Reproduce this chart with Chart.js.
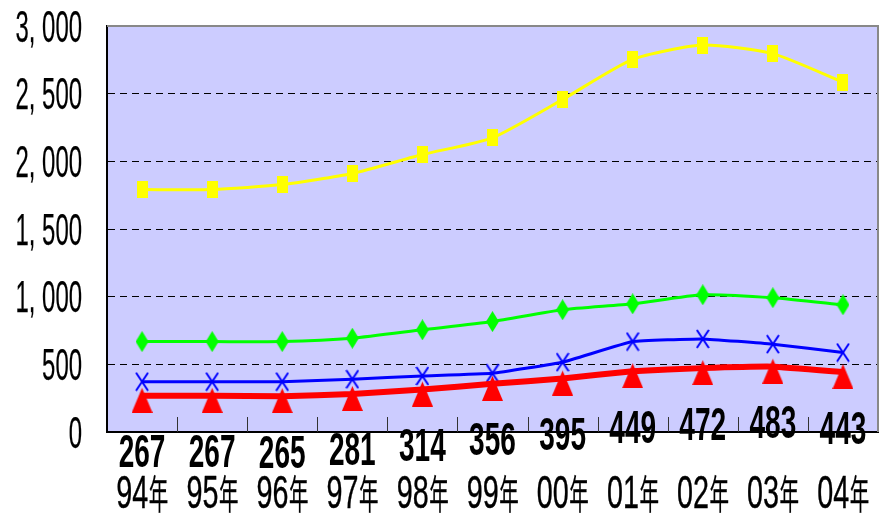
<!DOCTYPE html>
<html><head><meta charset="utf-8">
<script src="https://cdn.jsdelivr.net/npm/chart.js@4.4.1/dist/chart.umd.min.js"></script>
<style>html,body{margin:0;padding:0;background:#fff}#wrap{width:888px;height:518px;position:relative}</style>
</head><body><div id="wrap"><canvas id="c"></canvas></div>
<script>
// ---- data ----
const categories = ['94年','95年','96年','97年','98年','99年','00年','01年','02年','03年','04年'];
const yellowSeries = [1791,1791,1828,1910,2050,2174,2457,2753,2859,2796,2585];
const greenSeries  = [668,668,668,693,755,816,903,947,1014,992,940];
const blueSeries   = [372,372,372,390,414,434,516,668,688,649,587];
const redSeries    = [267,267,265,281,314,356,395,449,472,483,443];
const yTickValues  = [0,500,1000,1500,2000,2500,3000];

// ---- marker images ----
function mk(w,h,draw){const c=document.createElement('canvas');c.width=w;c.height=h;const g=c.getContext('2d');draw(g);return c;}
const yellowMark = mk(11,17,g=>{g.fillStyle='#FFFF00';g.fillRect(0,0,11,17);});
const greenMark = mk(13,21,g=>{g.fillStyle='#00FF00';g.beginPath();g.moveTo(6.5,0);g.lineTo(13,10.5);g.lineTo(6.5,21);g.lineTo(0,10.5);g.closePath();g.fill();});
const blueMark = mk(14,20,g=>{g.strokeStyle='#0000FF';g.lineWidth=2;g.beginPath();g.moveTo(1,1);g.lineTo(13,19);g.moveTo(13,1);g.lineTo(1,19);g.stroke();});
const redMark = mk(21,34,g=>{g.fillStyle='#FF0000';g.beginPath();g.moveTo(10.5,9);g.lineTo(21,34);g.lineTo(0,34);g.closePath();g.fill();});

const FAM = "'Liberation Sans Narrow','Liberation Sans',Arial,sans-serif";
const CJK = "'Noto Sans CJK JP','Noto Sans CJK SC',sans-serif";

function drawScaled(ctx, text, left, baseline, font, sx, thicken){
  ctx.save();
  ctx.font = font;
  ctx.translate(left, baseline);
  ctx.scale(sx,1);
  ctx.fillStyle='#000'; ctx.textBaseline='alphabetic'; ctx.textAlign='left';
  ctx.fillText(text,0,0);
  if (thicken){ ctx.strokeStyle='#000'; ctx.lineWidth=thicken; ctx.lineJoin='round'; ctx.strokeText(text,0,0); }
  ctx.restore();
}
function textW(ctx, text, font){ ctx.save(); ctx.font=font; const w=ctx.measureText(text).width; ctx.restore(); return w; }

const decor = {
  id:'decor',
  beforeDraw(chart){
    const {ctx, chartArea:a} = chart;
    ctx.save(); ctx.fillStyle='#CCCCFF'; ctx.fillRect(a.left,a.top,a.right-a.left,a.bottom-a.top); ctx.restore();
  },
  beforeDatasetsDraw(chart){
    const {ctx, chartArea:a, scales} = chart;
    const x = scales.x;
    ctx.save();
    ctx.strokeStyle='#888'; ctx.lineWidth=2;
    ctx.beginPath(); ctx.moveTo(a.left,a.top); ctx.lineTo(a.right,a.top); ctx.lineTo(a.right,a.bottom); ctx.stroke();
    ctx.strokeStyle='#333'; ctx.lineWidth=1;
    ctx.beginPath();
    for(let i=1;i<categories.length;i++){
      const px = Math.round((x.getPixelForValue(i-1)+x.getPixelForValue(i))/2)+0.5;
      ctx.moveTo(px,a.bottom); ctx.lineTo(px,a.bottom-15);
    }
    ctx.stroke();
    ctx.restore();
  },
  afterDraw(chart){
    const {ctx, scales} = chart;
    const x = scales.x, y = scales.y;
    // y tick labels
    const yFont = 'normal 44px '+FAM;
    const ySx = 13.3/textW(ctx,'0',yFont);
    yTickValues.forEach(v=>{
      const s = v.toLocaleString('en-US').replace(',', ', ');
      const w = textW(ctx,s,yFont)*ySx;
      drawScaled(ctx, s, 82-w, y.getPixelForValue(v)+0.358*44, yFont, ySx, 0.25);
    });
    // x labels
    const dFont = 'normal 46px '+FAM;
    const kFont = 'normal 40px '+CJK;
    const dSx = 16/textW(ctx,'0',dFont);
    categories.forEach((c,i)=>{
      const cx = x.getPixelForValue(i);
      const num = c.slice(0,2), kanji = c.slice(2);
      const wd = textW(ctx,num,dFont)*dSx;
      const kSx = 19.5/textW(ctx,kanji,kFont);
      const left = cx - (wd+19.5)/2;
      const base = 492 + 0.358*46;
      drawScaled(ctx, num, left, base, dFont, dSx, 0.4);
      drawScaled(ctx, kanji, left+wd+0.5, base+1, kFont, kSx, 0.3);
    });
    // red data labels
    const lFont = 'bold 46px '+FAM;
    const lSx = 15.6/textW(ctx,'0',lFont);
    chart.getDatasetMeta(0).data.forEach((pt,i)=>{
      const s = String(redSeries[i]);
      const w = textW(ctx,s,lFont)*lSx;
      drawScaled(ctx, s, pt.x-w/2, pt.y+55+0.358*46, lFont, lSx, 0);
    });
  }
};

new Chart(document.getElementById('c'), {
  type:'line',
  data:{
    labels: categories,
    datasets:[
      {data:redSeries, borderColor:'#FF0000', borderWidth:6, pointStyle:redMark, tension:0.1},
      {data:blueSeries, borderColor:'#0000FF', borderWidth:3, pointStyle:blueMark, tension:0.1},
      {data:greenSeries, borderColor:'#00FF00', borderWidth:3, pointStyle:greenMark, tension:0.2},
      {data:yellowSeries, borderColor:'#FFFF00', borderWidth:3, pointStyle:yellowMark, tension:0.2}
    ]
  },
  options:{
    responsive:true, maintainAspectRatio:false, animation:false, events:[],
    layout:{padding:{top:26,right:2,left:0,bottom:0}},
    plugins:{legend:{display:false}, tooltip:{enabled:false}},
    scales:{
      x:{
        offset:true,
        grid:{display:false, drawTicks:false},
        border:{display:true, color:'#000', width:2},
        ticks:{display:false},
        afterFit(s){ s.height = 86; }
      },
      y:{
        min:0, max:3000,
        ticks:{display:false, stepSize:500},
        grid:{drawTicks:false, color:(c)=> (c.tick && (c.tick.value===0||c.tick.value===3000)) ? 'rgba(0,0,0,0)' : '#000', lineWidth:1},
        border:{display:true, color:'#000', width:2, dash:[7,5]},
        afterFit(s){ s.width = 107; }
      }
    }
  },
  plugins:[decor]
});
</script>
</body></html>
